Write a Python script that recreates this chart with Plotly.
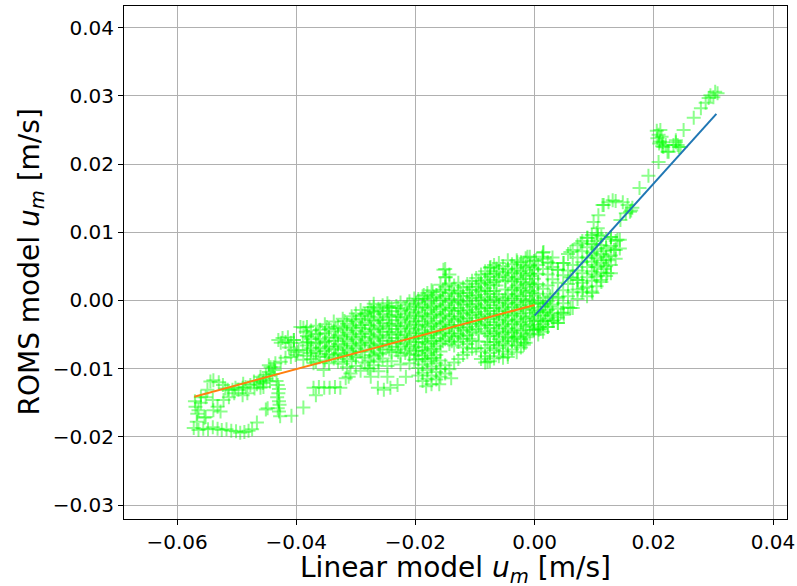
import plotly.graph_objects as go

# Velocities below are in mm/s; converted to m/s when plotted.
MM = 1e-3

# Lower-left tail of the cloud
tail_points = [
    (-57.2, -18.7), (-56.4, -19.0), (-55.6, -18.8), (-54.8, -18.9), (-54.0, -18.6),
    (-53.2, -18.8), (-52.5, -19.0), (-51.7, -18.9), (-50.9, -19.1), (-50.1, -19.2),
    (-49.4, -19.4), (-48.7, -19.3), (-48.0, -19.1), (-47.4, -18.9), (-46.6, -17.9),
    (-55.4, -17.2), (-56.7, -17.8),
    (-45.1, -16.0), (-44.8, -15.8), (-43.3, -11.8), (-43.1, -12.4), (-42.9, -13.0),
    (-43.0, -13.6), (-43.2, -14.2), (-42.9, -14.8), (-42.8, -15.3), (-43.1, -15.8),
    (-42.9, -16.3), (-42.7, -17.0), (-40.8, -16.9), (-38.8, -15.7), (-36.7, -13.9),
    (-37.1, -12.8), (-36.2, -12.7), (-35.3, -12.8), (-34.4, -12.8), (-33.5, -12.7),
    (-32.6, -12.8), (-31.7, -11.4), (-30.9, -10.7),
]

# Left cluster around x = -0.05
left_points = [
    (-56.9, -15.6), (-56.0, -15.0), (-56.4, -16.1), (-55.2, -17.1), (-54.9, -13.1),
    (-54.4, -11.9), (-53.9, -11.7), (-53.0, -12.0), (-52.3, -12.4), (-55.2, -14.2),
    (-54.0, -14.6), (-53.2, -15.6), (-52.2, -14.6), (-51.3, -14.2), (-51.5, -13.1),
    (-50.7, -13.1), (-50.2, -12.8), (-49.7, -13.1), (-49.0, -12.8), (-48.5, -12.7),
    (-47.7, -12.4), (-47.1, -11.9), (-46.3, -11.9), (-45.6, -12.1), (-45.5, -11.7),
    (-46.0, -11.2), (-45.1, -10.9), (-44.6, -10.5), (-44.3, -9.8), (-44.6, -9.5),
    (-43.8, -9.8), (-45.5, -12.7), (-46.0, -12.8), (-49.0, -13.9), (-48.2, -13.6),
    (-56.0, -14.2), (-53.9, -16.1), (-52.7, -16.3), (-57.0, -14.8), (-56.6, -16.6),
    (-47.0, -12.9), (-46.6, -12.3), (-45.0, -11.5), (-44.4, -11.9), (-44.0, -10.8),
    (-43.6, -10.2), (-48.9, -12.2), (-50.4, -13.6), (-51.9, -12.9),
    (-42.6, -9.0), (-41.8, -8.4), (-40.9, -8.3), (-43.5, -9.2),
    (-43.0, -5.8), (-42.3, -5.5), (-41.8, -6.1), (-41.4, -5.4), (-40.9, -6.2),
    (-40.4, -5.8), (-42.6, -6.2), (-41.2, -6.9),
    (-39.3, -3.9), (-38.4, -4.6), (-37.9, -5.4), (-38.9, -6.2), (-39.6, -7.3),
    (-40.1, -8.0), (-38.1, -7.3), (-38.8, -4.0), (-40.4, -5.8), (-38.1, -6.1),
    (-39.8, -7.6), (-37.6, -7.7), (-40.4, -7.3), (-38.8, -8.7), (-37.1, -9.2),
    (-35.4, -10.2),
]

# Main body of the cloud, columns of (x, [y ...])
core_columns = [
    (-38.2, [-3.9, -5.2, -6.6, -8.1]),
    (-37.5, [-4.4, -5.7, -7.0, -8.6]),
    (-36.7, [-3.7, -5.0, -6.3, -7.5, -9.0]),
    (-36.0, [-4.3, -5.6, -6.9, -8.2]),
    (-35.2, [-3.5, -4.8, -6.1, -7.4, -8.8]),
    (-34.5, [-4.2, -5.4, -6.7, -7.9, -9.2]),
    (-33.7, [-3.1, -4.5, -5.9, -7.2, -8.5]),
    (-33.0, [-3.8, -5.1, -6.4, -7.7, -9.0]),
    (-32.2, [-2.7, -4.0, -5.3, -6.6, -7.9, -9.3]),
    (-31.5, [-3.4, -4.7, -6.0, -7.3, -8.6, -9.8]),
    (-30.7, [-2.3, -3.7, -5.0, -6.3, -7.6, -8.9]),
    (-30.0, [-1.9, -3.1, -4.4, -5.7, -7.0, -8.3, -9.6]),
    (-29.2, [-1.4, -2.7, -4.0, -5.3, -6.5, -7.5, -10.3]),
    (-28.5, [-2.0, -3.3, -4.6, -5.9, -7.2, -9.1]),
    (-27.7, [-1.0, -2.3, -3.6, -4.9, -6.2, -7.5, -8.8, -10.0]),
    (-27.0, [-0.5, -1.7, -3.0, -4.3, -5.6, -6.9, -8.2, -9.5]),
    (-26.2, [-1.2, -2.5, -3.8, -5.1, -6.4, -7.7, -9.0, -10.4]),
    (-25.5, [-0.7, -2.0, -3.3, -4.6, -5.9, -7.2, -8.5]),
    (-24.7, [-0.4, -1.6, -2.9, -4.2, -5.5, -6.8, -9.6]),
    (-24.0, [-1.1, -2.4, -3.7, -5.0, -6.3, -7.6, -8.9]),
    (-23.2, [-0.8, -2.1, -3.4, -4.7, -6.0, -7.3]),
    (-22.5, [-0.3, -1.6, -2.9, -4.2, -5.5, -6.8, -8.1, -9.4]),
    (-21.7, [-1.2, -2.5, -3.8, -5.1, -6.4, -7.7]),
    (-21.0, [-0.1, -1.4, -2.7, -4.0, -5.3, -6.6, -7.9, -9.2]),
    (-20.2, [0.3, -0.9, -2.2, -3.5, -4.8, -6.1, -7.4, -8.7]),
    (-19.5, [0.2, -1.0, -2.3, -3.6, -4.8, -6.1, -7.3, -8.6, -9.9, -11.0]),
    (-18.8, [0.6, -0.6, -1.9, -3.1, -4.4, -5.6, -6.9, -8.1, -9.4, -10.6, -11.8]),
    (-18.0, [1.1, -0.2, -1.4, -2.7, -3.9, -5.2, -6.4, -7.7, -8.9, -10.2, -11.5]),
    (-17.3, [1.5, 0.3, -1.0, -2.2, -3.5, -4.7, -6.0, -7.2, -8.5, -9.7, -11.0, -12.3]),
    (-16.5, [0.8, -0.5, -1.7, -3.0, -4.2, -5.5, -6.7, -8.0, -9.2, -10.5, -11.6]),
    (-15.8, [2.3, 1.2, 0.0, -1.3, -2.5, -3.8, -5.0, -6.3, -7.5, -8.8, -10.0, -11.2]),
    (-15.0, [4.6, 3.4, 2.0, 0.6, -0.7, -2.0, -3.2, -4.5, -5.7, -9.5, -10.7]),
    (-14.3, [3.8, 2.5, 1.1, -0.2, -1.4, -2.7, -3.9, -5.2, -6.4, -10.1]),
    (-13.5, [2.2, 0.9, -0.4, -1.6, -2.9, -4.1, -5.4, -6.6, -9.1]),
    (-12.8, [2.6, 1.4, 0.1, -1.1, -2.4, -3.6, -4.9, -6.1, -8.6]),
    (-12.0, [1.9, 0.6, -0.6, -1.9, -3.1, -4.4, -5.6, -6.9, -8.0]),
    (-11.3, [2.4, 1.1, -0.1, -1.4, -2.6, -3.9, -5.1, -6.4, -7.6]),
    (-10.5, [2.9, 1.6, 0.4, -0.9, -2.1, -3.4, -4.6, -5.9, -7.1]),
    (-9.8, [3.3, 2.0, 0.8, -0.5, -1.7, -3.0, -4.2, -7.0]),
    (-9.0, [3.8, 2.5, 1.3, 0.0, -1.2, -2.5, -3.7, -7.5, -8.6]),
    (-8.3, [4.3, 3.0, 1.8, 0.5, -0.7, -2.0, -3.2, -4.5, -7.0, -8.2, -9.1]),
    (-7.5, [4.8, 3.5, 2.3, 1.0, -0.2, -1.5, -2.7, -4.0, -5.2, -6.5, -7.7, -8.9]),
    (-6.8, [5.2, 3.9, 2.7, 1.4, 0.2, -1.1, -2.3, -3.6, -4.8, -6.1, -7.3, -8.5]),
    (-6.0, [5.5, 4.3, 3.0, 0.5, -0.7, -2.0, -3.2, -4.5, -5.7, -7.0, -8.2]),
    (-5.3, [5.0, 3.7, 0.0, -1.3, -2.5, -3.8, -5.0, -6.3, -7.5, -8.4]),
    (-4.5, [5.9, 4.6, 3.4, 0.9, -0.4, -1.6, -2.9, -4.1, -5.4, -6.6, -7.9]),
    (-3.8, [5.3, 4.0, 2.8, 1.5, 0.3, -1.0, -2.2, -3.5, -4.7, -6.0, -7.2]),
    (-3.0, [5.9, 4.7, 3.4, 2.2, 0.9, -0.3, -1.6, -2.8, -4.1, -5.3, -6.6, -7.6]),
    (-2.3, [5.6, 4.3, 3.1, 1.8, 0.6, -0.7, -1.9, -3.2, -4.4, -5.7, -6.9]),
    (-1.5, [6.2, 4.9, 3.7, 2.4, 1.2, -0.1, -1.3, -2.6, -3.8, -5.1, -6.2]),
    (-0.8, [6.4, 5.1, 3.9, 2.6, 1.4, 0.1, -1.1, -2.4, -3.6, -4.9]),
    (-0.1, [5.8, 4.5, 3.2, 2.0, 0.7, -0.5, -1.8, -3.0, -4.3]),
    (0.6, [5.2, 3.9, 2.4, 1.0, -0.3, -1.6, -2.9, -4.1, -5.0]),
    (1.4, [7.0, 6.1, 4.6, 1.7, 0.4, -0.9, -2.2, -3.5, -4.6]),
    (2.2, [5.6, 3.8, 2.2, -0.1, -1.4, -2.7, -3.9]),
    (3.0, [6.3, 4.9, 3.1, 1.0, -0.6, -1.9, -3.0]),
    (3.9, [4.5, 2.6, 0.3, -1.2, -2.5, -3.3]),
    (4.8, [5.5, 3.7, 1.5, -0.4, -1.8]),
    (5.6, [6.8, 4.4, 2.4, 0.6, -1.0]),
    (6.4, [7.4, 5.2, 3.3, 1.2, -1.1]),
    (7.2, [8.1, 6.3, 4.4, 3.0, 1.6, 0.2]),
    (8.0, [8.7, 7.2, 5.6, 4.0, 2.6, 1.2]),
    (8.8, [9.2, 7.8, 6.3, 4.9, 3.4, 2.0, 0.6]),
    (9.6, [9.6, 8.3, 7.0, 5.7, 4.3, 2.9, 1.3]),
    (10.4, [9.9, 8.7, 7.5, 6.2, 4.9, 3.5, 2.1]),
    (11.2, [9.4, 8.1, 6.8, 5.5, 4.1, 2.7]),
    (12.0, [9.0, 7.7, 6.4, 5.0, 3.6]),
    (12.8, [9.3, 8.0, 6.6, 5.2, 4.0]),
    (13.6, [8.7, 7.4, 6.1]),
    (14.3, [8.9, 7.6]),
]

# Denser interior points between the columns above
core_columns_inner = [
    (-36.3, [-4.9, -6.2, -7.8]),
    (-34.9, [-3.9, -5.9, -7.1, -8.3]),
    (-33.4, [-4.1, -5.5, -6.8, -8.0]),
    (-31.9, [-3.0, -4.3, -5.7, -7.0, -8.2]),
    (-30.4, [-2.8, -4.0, -5.4, -6.7, -8.0]),
    (-28.9, [-2.2, -3.6, -4.9, -6.2, -8.4]),
    (-27.4, [-1.5, -2.9, -4.2, -5.4, -6.6, -8.0]),
    (-25.9, [-1.5, -2.8, -4.0, -5.3, -6.6, -7.9]),
    (-24.4, [-0.9, -2.2, -3.4, -4.6, -5.9, -7.2]),
    (-22.9, [-1.1, -2.4, -3.7, -5.0, -6.2, -7.6]),
    (-21.4, [-0.6, -1.9, -3.2, -4.5, -5.8, -7.1]),
    (-19.9, [-0.4, -1.7, -3.0, -4.2, -5.5, -6.8, -8.0]),
    (-18.4, [0.2, -1.1, -2.4, -3.7, -5.0, -6.2, -7.4, -8.6]),
    (-16.9, [0.5, -0.8, -2.0, -3.3, -4.6, -5.9, -7.1, -8.4]),
    (-15.4, [1.6, 0.3, -1.0, -2.2, -3.5, -4.8, -6.0]),
    (-13.9, [1.5, 0.2, -1.1, -2.3, -3.6, -4.8, -6.0]),
    (-12.4, [1.1, -0.2, -1.5, -2.7, -4.0, -5.2]),
    (-10.9, [2.0, 0.7, -0.6, -1.8, -3.1, -4.3, -5.6]),
    (-9.4, [2.8, 1.5, 0.3, -1.0, -2.2, -3.4, -4.8, -6.0]),
    (-7.9, [3.9, 2.6, 1.4, 0.1, -1.1, -2.4, -3.6, -4.9, -6.1]),
    (-6.4, [4.7, 3.4, 2.2, 0.9, -0.3, -1.6, -2.8, -4.1, -5.3, -6.6]),
    (-4.9, [4.1, 2.8, 1.6, 0.3, -1.0, -2.2, -3.5, -4.7, -6.0]),
    (-3.4, [4.4, 3.1, 1.9, 0.6, -0.6, -1.9, -3.1, -4.4, -5.6]),
    (-1.9, [5.2, 4.0, 2.7, 1.5, 0.2, -1.0, -2.3, -3.5, -4.8]),
    (-0.4, [4.8, 3.6, 2.3, 1.1, -0.2, -1.4, -2.7, -3.9]),
    (1.0, [-0.5, -1.8, -3.1, -4.2]),
    (1.8, [-0.4, -1.7, -3.0]),
    (2.6, [0.6, -0.9, -2.2]),
    (10.0, [8.2, 6.6, 5.2, 3.8]),
    (11.6, [7.2, 5.9, 4.6]),
]

# Scattered points around the edges of the main body
edge_points = [
    (-27.5, -11.2), (-26.3, -12.8), (-25.3, -13.1), (-24.2, -12.8), (-23.0, -12.4),
    (-21.6, -11.2), (-28.0, -9.9), (-24.7, -11.2), (-31.2, -11.2),
    (-27.0, -1.0), (-24.7, -1.0), (-28.0, -1.8),
    (-18.6, 0.8), (-17.1, 1.3), (-15.3, 4.5), (-14.9, 3.4), (-7.4, 4.9),
    (-2.9, 5.6), (-1.2, 6.4), (0.2, 5.9),
    (-18.2, -12.6), (-16.0, -12.3), (-14.0, -11.4), (-7.9, -9.0), (-4.5, -8.3),
    (-1.8, -6.5), (-0.2, -4.3), (-3.5, -5.4), (-1.8, -6.2), (-1.2, -5.4),
    (0.7, -4.3), (2.2, -3.9), (3.9, -3.3), (3.2, -2.9), (4.4, -1.8), (4.9, -2.1),
    (6.0, -1.1), (4.0, 0.5), (1.5, 7.1), (1.3, 6.4), (2.7, 5.5), (4.9, 5.5),
    (3.9, 4.5), (6.0, 7.1), (7.7, 8.4), (8.9, 9.2), (10.6, 9.6), (12.8, 9.3),
    (13.9, 8.9), (13.3, 7.4), (12.4, 5.9), (12.2, 4.0), (11.1, 3.0), (9.7, 1.1),
    (8.1, 1.8), (7.2, 3.0), (6.0, 3.4),
]

# Upper branch towards the largest velocities
upper_points = [
    (9.9, 11.5), (10.7, 12.5), (11.4, 14.0), (12.4, 14.4), (13.6, 14.6), (14.8, 14.4),
    (15.6, 14.0), (15.3, 12.8), (14.4, 11.8), (10.6, 10.6), (16.2, 13.2),
    (11.6, 14.0), (13.1, 14.7), (16.4, 13.6), (16.0, 13.0),
    (17.6, 16.5), (19.1, 18.3), (20.8, 20.3),
    (20.8, 24.3), (20.6, 23.8), (20.5, 24.9), (21.0, 23.3), (21.4, 22.6), (21.5, 23.2),
    (21.6, 22.5), (22.0, 22.8), (22.3, 21.8), (22.5, 21.8), (23.3, 22.8), (23.7, 23.2),
    (24.0, 22.8), (24.2, 22.5), (24.5, 22.5), (23.7, 23.5), (21.1, 25.0), (21.3, 24.0),
    (20.9, 23.0),
    (25.0, 25.0), (26.7, 26.8), (27.9, 28.2), (28.7, 29.0), (29.5, 30.1), (30.0, 29.8),
    (30.7, 30.4), (29.2, 29.7), (30.3, 30.6),
]

# Piecewise linear fits (m/s)
pos_fit_x = [0.0, 0.0305]
pos_fit_y = [-0.00223, 0.02735]
neg_fit_x = [-0.0571, 0.0]
neg_fit_y = [-0.01411, -0.00066]

x_ticks = [-0.06, -0.04, -0.02, 0.00, 0.02, 0.04]
x_tick_text = ["\u22120.06", "\u22120.04", "\u22120.02", "0.00", "0.02", "0.04"]
y_ticks = [-0.03, -0.02, -0.01, 0.00, 0.01, 0.02, 0.03, 0.04]
y_tick_text = ["\u22120.03", "\u22120.02", "\u22120.01", "0.00", "0.01", "0.02", "0.03", "0.04"]

points = list(tail_points) + list(left_points)
for cx, cys in core_columns + core_columns_inner:
    points += [(cx, cy) for cy in cys]
points += edge_points + upper_points

lin_u = [p[0] * MM for p in points]
roms_u = [p[1] * MM for p in points]

green = "rgba(0,255,0,0.45)"

fig = go.Figure()
fig.add_trace(go.Scatter(
    x=lin_u, y=roms_u, mode="markers",
    marker=dict(symbol="cross-thin", size=10, color=green,
                line=dict(width=2, color=green)),
    hoverinfo="skip", showlegend=False,
))
fig.add_trace(go.Scatter(
    x=pos_fit_x, y=pos_fit_y, mode="lines",
    line=dict(color="#1f77b4", width=2), showlegend=False,
))
fig.add_trace(go.Scatter(
    x=neg_fit_x, y=neg_fit_y, mode="lines",
    line=dict(color="#ff7f0e", width=2), showlegend=False,
))

axis_common = dict(
    showgrid=True, gridcolor="#b0b0b0", gridwidth=1, automargin=False,
    zeroline=False, showline=True, linecolor="black", linewidth=1.1,
    mirror=True, ticks="outside", ticklen=5, tickwidth=1.1, tickcolor="black",
    tickfont=dict(family="DejaVu Sans", size=20, color="black"),
)

title_font = dict(family="DejaVu Sans", size=28, color="black")

fig.update_layout(
    width=797, height=586,
    margin=dict(l=124, r=10, t=6, b=67),
    paper_bgcolor="white", plot_bgcolor="white",
    font=dict(family="DejaVu Sans", color="black"),
    xaxis=dict(range=[-0.0689, 0.04235], tickvals=x_ticks, ticktext=x_tick_text,
               **axis_common),
    yaxis=dict(range=[-0.03205, 0.04318], tickvals=y_ticks, ticktext=y_tick_text,
               **axis_common),
    annotations=[
        dict(text="Linear model <i>u<sub>m</sub></i> [m/s]", xref="paper", yref="paper",
             x=0.5, y=0, xanchor="center", yanchor="middle", yshift=-50,
             showarrow=False, font=title_font),
        dict(text="ROMS model <i>u<sub>m</sub></i> [m/s]", xref="paper", yref="paper",
             x=0, y=0.5, xanchor="center", yanchor="middle", xshift=-93,
             textangle=-90, showarrow=False, font=title_font),
    ],
)

fig.write_html("out.html")
